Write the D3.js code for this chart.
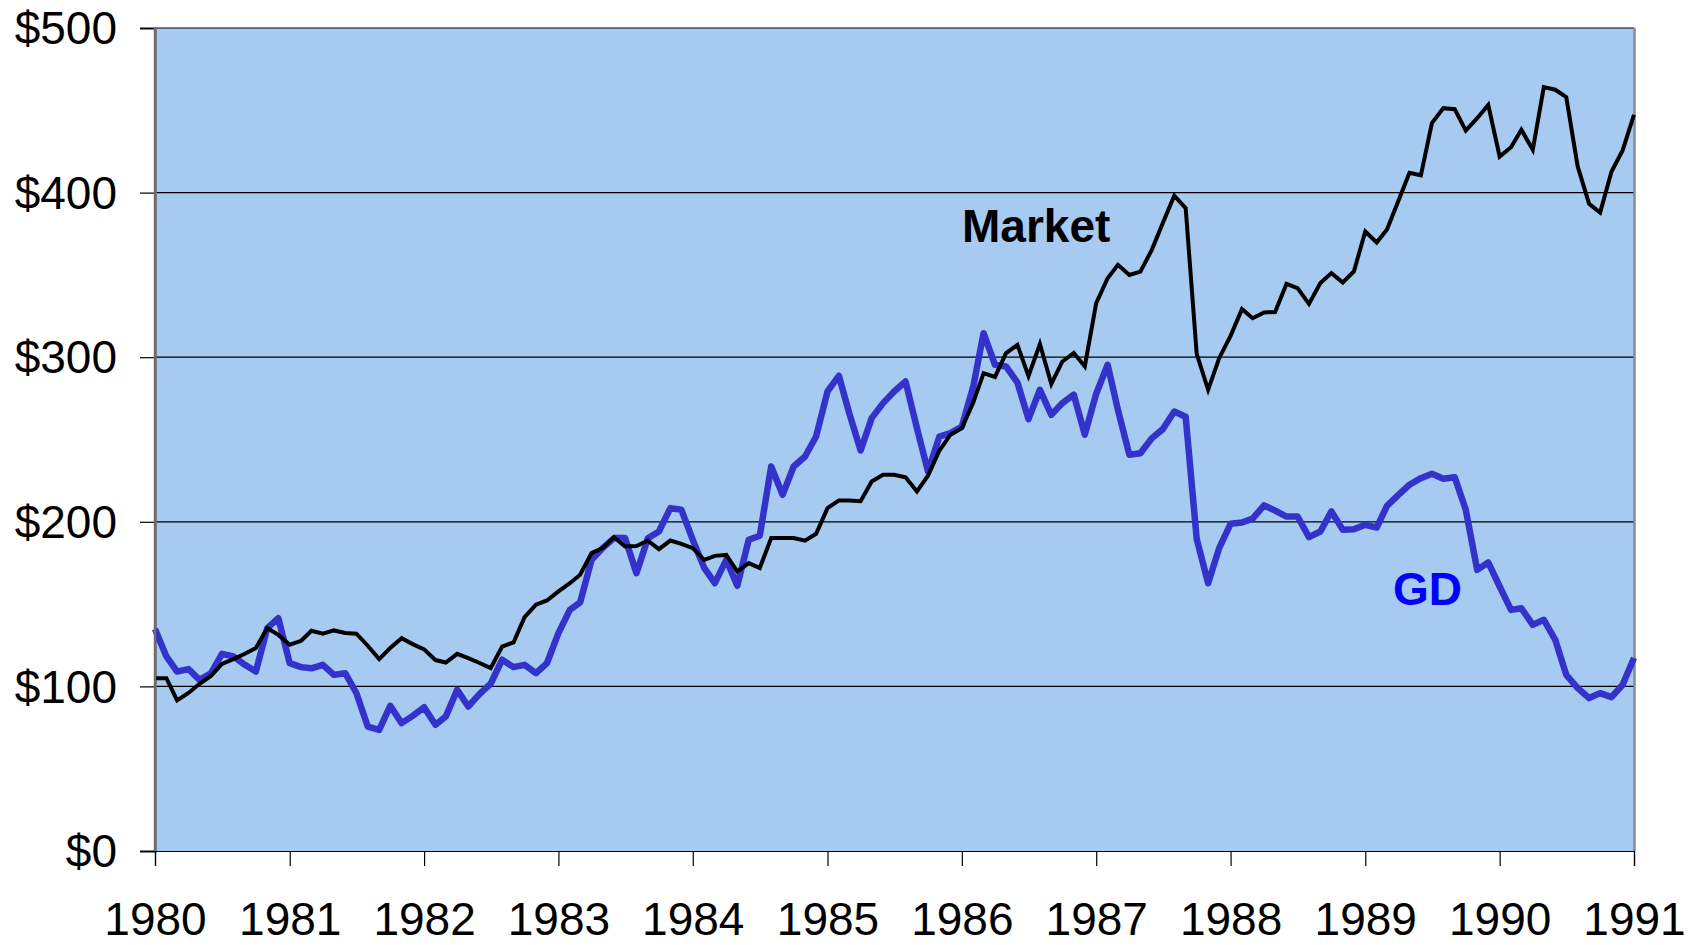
<!DOCTYPE html>
<html>
<head>
<meta charset="utf-8">
<script src="https://cdn.jsdelivr.net/npm/d3@7"></script>
<style>
  html, body { margin: 0; padding: 0; background: #fff; }
  svg { display: block; font-family: "Liberation Sans", Arial, sans-serif; }
</style>
</head>
<body>
<svg id="chart" width="1696" height="945"></svg>
<script>
// Monthly values, Jan 1980 .. Jan 1991 (133 points)
const startYear = 1980;
const market = [105,105,91.5,96,101.6,106.4,113.7,116.6,119.8,123.3,135.4,131.3,
  125.3,127.7,133.8,132,134,132.4,132,124.7,116.6,123.3,129.3,125.7,
  122.5,116,114.5,119.8,117.2,114.2,111.1,124.2,126.7,142.1,149.6,152.2,
  157.7,162.7,167.8,181,184,190.7,185,185.3,188.6,183.4,188.6,186.6,
  184,176.9,179.3,179.9,169.8,174.9,171.9,190.1,190.1,190.1,188.5,192.7,
  208.3,213,213,212.5,224.5,228.6,228.6,227.1,218.4,228,243.3,252.9,
  256.9,272.5,290.3,288,302.5,307.5,288.5,308,283.8,297.4,302.5,294.4,
  332.9,348,356.1,350,352,365.2,381.5,398.1,390.6,302,280.2,299.4,
  313,329.2,323.7,327.2,327.5,344.6,342,332.4,345,351.1,345.4,352.1,
  376.4,369.7,377.6,395,412,410.5,442.2,451.3,450.7,437.7,445.2,453.3,
  421.9,427.6,438.2,426,464.1,462.5,458,415.9,393.2,387.9,412.8,425.6,
  447.3];
const gd = [134.8,118.2,109,110.5,104,108,119.8,118.2,113.1,109,135.4,141.5,
  114.1,111.7,111,113.1,107,108,96,75.6,73.6,88.2,77.7,82.1,
  87.3,76.7,81.7,97.9,87.8,95.5,101.6,116.2,111.7,113.1,108,114.2,
  132.4,146.5,151,176.9,184,190.1,190.1,168.8,190,194.1,208.3,207.3,
  189,172,162.7,176.9,161.1,189.1,191.5,233.6,216.4,233.6,239.7,251.8,
  279.2,288.7,266,243.3,263,272.1,279.2,285.2,256.9,230.6,251.8,253.9,
  257.9,282.2,314.6,295.4,294.4,284.6,262.4,280.2,265,272.1,277.2,252.9,
  277.8,295.4,268,240.7,241.7,250.8,256.3,267,263.8,189.6,162.7,184,
  198.8,199.6,201.9,210,206.8,203.2,203.2,190.7,194.1,206.3,195.1,195.5,
  198.2,196.5,209.7,216.4,222.5,226.5,229.2,226.1,227.1,207.3,170.8,175.3,
  160.7,146.5,147.5,137.4,140.5,128.3,107,99,92.9,95.9,93.5,101,
  117.2];
const yearTicks = [1980,1981,1982,1983,1984,1985,1986,1987,1988,1989,1990,1991];
const valueTicks = [0,100,200,300,400,500];
const seriesLabels = ["Market", "GD"];

const svg = d3.select("#chart");
const L = 155, R = 1634, T = 28, B = 851;

const dates = market.map((_, i) => new Date(startYear + Math.floor(i / 12), i % 12, 1));
const x = d3.scaleTime().domain([new Date(1980, 0, 1), new Date(1991, 0, 1)]).range([L, R]);
const y = d3.scaleLinear().domain([0, 500]).range([B, T]);

// plot background
svg.append("rect").attr("x", L).attr("y", T).attr("width", R - L).attr("height", B - T)
  .attr("fill", "#A6CAF0");

// gridlines
svg.append("g").selectAll("line").data(valueTicks.filter(v => v > 0)).join("line")
  .attr("x1", L).attr("x2", R).attr("y1", d => y(d)).attr("y2", d => y(d))
  .attr("stroke", "#000").attr("stroke-width", 1.2);

// right border
svg.append("line").attr("x1", R + 0.5).attr("x2", R + 0.5).attr("y1", T).attr("y2", B)
  .attr("stroke", "#8a8a8a").attr("stroke-width", 2.5);

// y axis
const yAxis = d3.axisLeft(y).tickValues(valueTicks).tickSize(15).tickPadding(23)
  .tickFormat(d => "$" + d);
const gy = svg.append("g").attr("transform", `translate(${L},0)`).call(yAxis);
gy.select(".domain").attr("stroke", "#6e6e6e").attr("stroke-width", 2.5);
gy.selectAll(".tick line").attr("stroke", "#000").attr("stroke-width", 1.2);
gy.selectAll(".tick text").attr("font-size", 46).attr("fill", "#000")
  .attr("font-family", "'Liberation Sans', Arial, sans-serif").attr("dy", "0.34em");

// x axis
const xAxis = d3.axisBottom(x).tickValues(yearTicks.map(yr => new Date(yr, 0, 1)))
  .tickSize(15).tickPadding(36).tickFormat(d3.timeFormat("%Y"));
const gx = svg.append("g").attr("transform", `translate(0,${B})`).call(xAxis);
gx.select(".domain").attr("stroke", "#000").attr("stroke-width", 1.2);
gx.selectAll(".tick line").attr("stroke", "#000").attr("stroke-width", 1.2);
gx.selectAll(".tick text").attr("font-size", 46).attr("fill", "#000")
  .attr("font-family", "'Liberation Sans', Arial, sans-serif");

// lines
const line = d3.line().x((d, i) => x(dates[i])).y(d => y(d));
svg.append("path").datum(gd).attr("d", line).attr("fill", "none")
  .attr("stroke", "#3333CC").attr("stroke-width", 6.5).attr("stroke-linejoin", "round");
svg.append("path").datum(market).attr("d", line).attr("fill", "none")
  .attr("stroke", "#000").attr("stroke-width", 4).attr("stroke-linejoin", "miter");

// redraw left axis line on top
svg.append("line").attr("x1", L).attr("x2", L).attr("y1", T).attr("y2", B)
  .attr("stroke", "#6e6e6e").attr("stroke-width", 2.5);

// series labels
svg.append("text").attr("x", 962).attr("y", 242).text(seriesLabels[0])
  .attr("font-size", 46).attr("font-weight", "bold").attr("fill", "#000");
svg.append("text").attr("x", 1393).attr("y", 605).text(seriesLabels[1])
  .attr("font-size", 46).attr("font-weight", "bold").attr("fill", "#0000FF");
</script>
</body>
</html>
